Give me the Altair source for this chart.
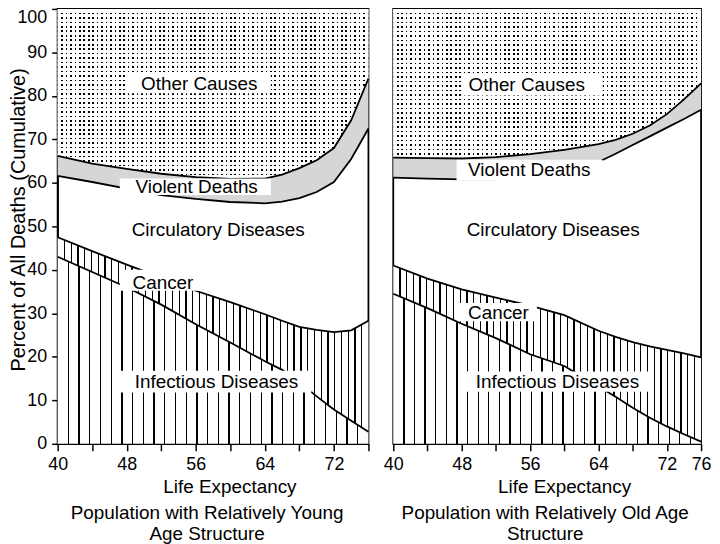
import altair as alt
import pandas as pd

FONT = "Liberation Sans"

# ---- data (cumulative percent of all deaths) ----
years = [40, 44, 48, 52, 56, 60, 64, 66, 68, 70, 72, 74, 76]

young_infectious = [43.0, 39.5, 36.0, 32.0, 27.5, 23.3, 19.0, 17.0, 14.2, 10.9, 7.9, 5.3, 2.8]
young_cancer = [47.5, 44.3, 41.2, 38.2, 35.2, 32.6, 29.8, 28.3, 26.9, 26.2, 25.7, 26.1, 28.3]
young_circulatory = [61.6, 60.2, 58.7, 57.2, 56.3, 55.6, 55.3, 55.7, 56.5, 57.9, 60.2, 65.5, 72.5]
young_violent = [66.2, 64.4, 63.2, 62.1, 61.3, 60.9, 61.0, 61.9, 63.4, 65.2, 68.0, 74.4, 84.0]

old_infectious = [34.5, 31.2, 27.6, 24.3, 20.6, 17.9, 13.2, 10.8, 8.3, 6.0, 4.0, 2.2, 0.5]
old_cancer = [41.0, 38.0, 35.5, 33.6, 31.8, 29.6, 26.0, 24.6, 23.4, 22.4, 21.6, 20.8, 19.9]
old_circulatory = [61.2, 61.0, 60.8, 60.8, 61.8, 63.2, 64.8, 66.7, 68.7, 70.7, 72.7, 74.7, 76.8]
old_violent = [65.8, 65.7, 65.6, 65.9, 66.6, 67.6, 68.9, 69.9, 71.3, 73.2, 75.8, 79.2, 82.9]

label_text = ["Other Causes", "Violent Deaths", "Circulatory Diseases", "Cancer", "Infectious Diseases"]
young_label_x = [56.4, 56.1, 58.6, 52.2, 58.4]
young_label_y = [82.8, 59.1, 49.1, 37.0, 14.2]
old_label_x = [55.6, 55.9, 58.7, 52.3, 59.2]
old_label_y = [82.4, 63.0, 49.1, 30.1, 14.2]

# white boxes behind labels: (x0, x1, y0, y1)
young_boxes = [(47.8, 64.7, 80.6, 84.9), (47.2, 64.7, 57.2, 61.0),
               (47.2, 56.8, 35.2, 40.0), (47.2, 69.4, 11.8, 16.8)]
old_boxes = [(48.2, 64.5, 80.1, 84.7), (47.4, 64.5, 60.5, 65.3),
             (47.8, 56.8, 28.2, 32.4), (48.6, 69.8, 12.0, 16.6)]

x_ticks = list(range(40, 77, 4))
y_ticks = list(range(0, 101, 10))

PLOT_H = 438


def stripes(n, frac, line_color, bg_color, vertical=True):
    stops = [alt.GradientStop(color=bg_color, offset=0.0)]
    for k in range(1, n):
        s = round(k / n - frac / 2, 5)
        e = round(k / n + frac / 2, 5)
        stops += [alt.GradientStop(color=bg_color, offset=s),
                  alt.GradientStop(color=line_color, offset=s),
                  alt.GradientStop(color=line_color, offset=e),
                  alt.GradientStop(color=bg_color, offset=e)]
    stops.append(alt.GradientStop(color=bg_color, offset=1.0))
    if vertical:
        return alt.Gradient(gradient="linear", stops=stops, x1=0, x2=1, y1=0, y2=0)
    return alt.Gradient(gradient="linear", stops=stops, x1=0, x2=0, y1=0, y2=1)


def panel(inf, canc, circ, viol, lx, ly, boxes, width, show_y, label_expr,
          subtitle, xtitle_x, title_dx):
    df = pd.DataFrame({"year": years, "inf": inf, "canc": canc,
                       "circ": circ, "viol": viol})
    df["base"] = 0
    df["top"] = 100
    labels = pd.DataFrame({"label": label_text, "lx": lx, "ly": ly})
    bx = pd.DataFrame(boxes, columns=["x0", "x1", "y0", "y1"])

    xs = alt.Scale(domain=[40, 76], nice=False, zero=False)
    ys = alt.Scale(domain=[0, 100], nice=False, zero=False)
    xaxis = alt.Axis(values=x_ticks, labelExpr=label_expr, title="Life Expectancy",
                     titleX=xtitle_x, tickSize=7, labelPadding=5, titlePadding=4)
    if show_y:
        yaxis = alt.Axis(values=y_ticks, title="Percent of All Deaths (Cumulative)",
                         titleX=-29, titleY=212, titleFontSize=20,
                         tickSize=6, labelPadding=5,
                         labelBaseline={"condition": {"test": "datum.value == 100", "value": "top"},
                                        "value": "middle"})
    else:
        yaxis = None

    def X(f):
        return alt.X(f, type="quantitative", scale=xs, axis=xaxis)

    def Y(f):
        if yaxis is None:
            return alt.Y(f, type="quantitative", scale=ys, axis=None)
        return alt.Y(f, type="quantitative", scale=ys, axis=yaxis)

    base = alt.Chart(df)
    n_inf = round(width / 10.8)
    n_can = round(width / 6.8)
    inf_area = base.mark_area(fill=stripes(n_inf, 1.3 / width, "black", "white")).encode(
        x=X("year"), y=Y("inf"), y2="base")
    can_area = base.mark_area(fill=stripes(n_can, 1.3 / width, "black", "white")).encode(
        x=X("year"), y=Y("canc"), y2="inf")
    vio_area = base.mark_area(fill="#d6d6d6").encode(
        x=X("year"), y=Y("viol"), y2="circ")

    oth_h = (100 - min(viol)) * PLOT_H / 100.0
    n_rows = round(oth_h / 4.5)
    n_cols = round(width / 4.5)
    oth_rows = base.mark_area(fill=stripes(n_rows, 1.6 / oth_h, "black", "white", vertical=False)).encode(
        x=X("year"), y=Y("top"), y2="viol")
    oth_cols = base.mark_area(fill=stripes(n_cols, 1.6 / width, "rgba(255,255,255,0)", "white")).encode(
        x=X("year"), y=Y("top"), y2="viol")

    lines = base.transform_fold(["inf", "canc", "circ", "viol"], as_=["k", "v"]).mark_line(
        color="black", strokeWidth=1.8).encode(x=X("year"), y=Y("v"), detail="k:N")

    rects = alt.Chart(bx).mark_rect(fill="white").encode(
        x=X("x0"), x2="x1", y=Y("y0"), y2="y1")
    texts = alt.Chart(labels).mark_text(font=FONT, fontSize=19, color="black",
                                        baseline="middle", align="center").encode(
        x=X("lx"), y=Y("ly"), text="label:N")

    return alt.layer(inf_area, can_area, vio_area, oth_rows, oth_cols, lines, rects, texts).properties(
        width=width, height=PLOT_H,
        title=alt.TitleParams(text=subtitle, orient="bottom", anchor="middle", frame="group",
                              fontSize=19, font=FONT, fontWeight="normal", color="black",
                              lineHeight=21, offset=8, dx=title_dx))


left = panel(young_infectious, young_cancer, young_circulatory, young_violent,
             young_label_x, young_label_y, young_boxes, 313, True,
             "datum.value % 8 == 0 && datum.value < 76 ? datum.label : ''",
             ["Population  with Relatively Young", "Age Structure"], 173, -6)
right = panel(old_infectious, old_cancer, old_circulatory, old_violent,
              old_label_x, old_label_y, old_boxes, 310, False,
              "(datum.value % 8 == 0 || datum.value == 76) ? datum.label : ''",
              ["Population  with Relatively Old Age", "Structure"], 172, -2)

chart = alt.hconcat(left, right, spacing=25, bounds="flush").properties(
    padding={"left": 0, "top": -3, "right": 0, "bottom": 0}
).configure_view(stroke="black", strokeWidth=1.8).configure_axis(
    labelFont=FONT, labelFontSize=18, labelColor="black",
    titleFont=FONT, titleFontSize=19, titleFontWeight="normal", titleColor="black",
    domainColor="black", domainWidth=1.5, tickColor="black", tickWidth=1.5,
    grid=False, labelFlush=False, labelOverlap=False)

chart.save("out.html", embed_options={"renderer": "svg", "actions": False})
